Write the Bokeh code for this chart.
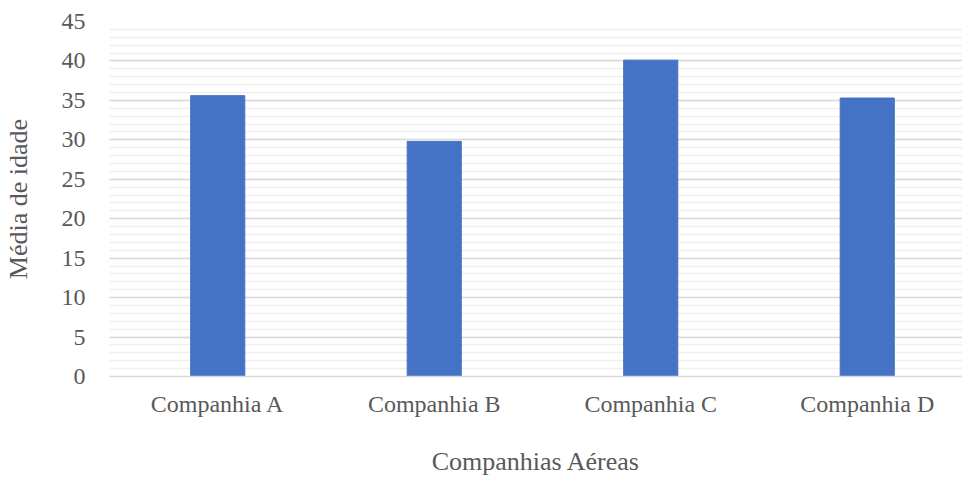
from bokeh.plotting import figure
from bokeh.models import Range1d, SingleIntervalTicker, FixedTicker
from bokeh.embed import file_html
from bokeh.resources import INLINE

# Average age per airline
companhias = ["Companhia A", "Companhia B", "Companhia C", "Companhia D"]
media_idade = [35.6, 29.8, 40.1, 35.3]

posicoes = list(range(len(companhias)))

p = figure(
    width=962, height=479,
    x_range=Range1d(-0.5, 3.44), y_range=Range1d(0, 45),
    output_backend="svg", toolbar_location=None,
    min_border_left=108, min_border_right=0,
    min_border_top=21, min_border_bottom=103,
)
p.outline_line_color = None
p.background_fill_color = "white"
p.border_fill_color = "white"

p.vbar(x=posicoes, top=media_idade, width=0.25, bottom=0,
       fill_color="#4472c4", line_color="#4472c4")

serif = "Liberation Serif"
txt = "#595959"

# Y axis: major every 5, minor every 1
p.yaxis.ticker = SingleIntervalTicker(interval=5, num_minor_ticks=5)
p.yaxis.axis_line_color = None
p.yaxis.major_tick_line_color = None
p.yaxis.minor_tick_line_color = None
p.yaxis.major_label_standoff = 18
p.yaxis.major_label_text_font = serif
p.yaxis.major_label_text_font_size = "24px"
p.yaxis.major_label_text_color = txt
p.yaxis.axis_label = "Média de idade"
p.yaxis.axis_label_text_font = serif
p.yaxis.axis_label_text_font_size = "26px"
p.yaxis.axis_label_text_font_style = "normal"
p.yaxis.axis_label_text_color = txt
p.yaxis.axis_label_standoff = 26

p.ygrid.grid_line_color = "#d9d9d9"
p.ygrid.grid_line_width = 1.5
p.ygrid.minor_grid_line_color = "#f0f0f0"
p.ygrid.minor_grid_line_width = 1.5
p.xgrid.grid_line_color = None

# X axis with airline names
p.xaxis.ticker = FixedTicker(ticks=posicoes)
p.xaxis.major_label_overrides = {i: c for i, c in zip(posicoes, companhias)}
p.xaxis.axis_line_color = "#d9d9d9"
p.xaxis.axis_line_width = 1.5
p.xaxis.major_tick_line_color = None
p.xaxis.minor_tick_line_color = None
p.xaxis.major_label_standoff = 8
p.xaxis.major_label_text_font = serif
p.xaxis.major_label_text_font_size = "24px"
p.xaxis.major_label_text_color = txt
p.xaxis.axis_label = "Companhias Aéreas"
p.xaxis.axis_label_text_font = serif
p.xaxis.axis_label_text_font_size = "26px"
p.xaxis.axis_label_text_font_style = "normal"
p.xaxis.axis_label_text_color = txt
p.xaxis.axis_label_standoff = 27

open("out.html", "w").write(file_html(p, INLINE))
